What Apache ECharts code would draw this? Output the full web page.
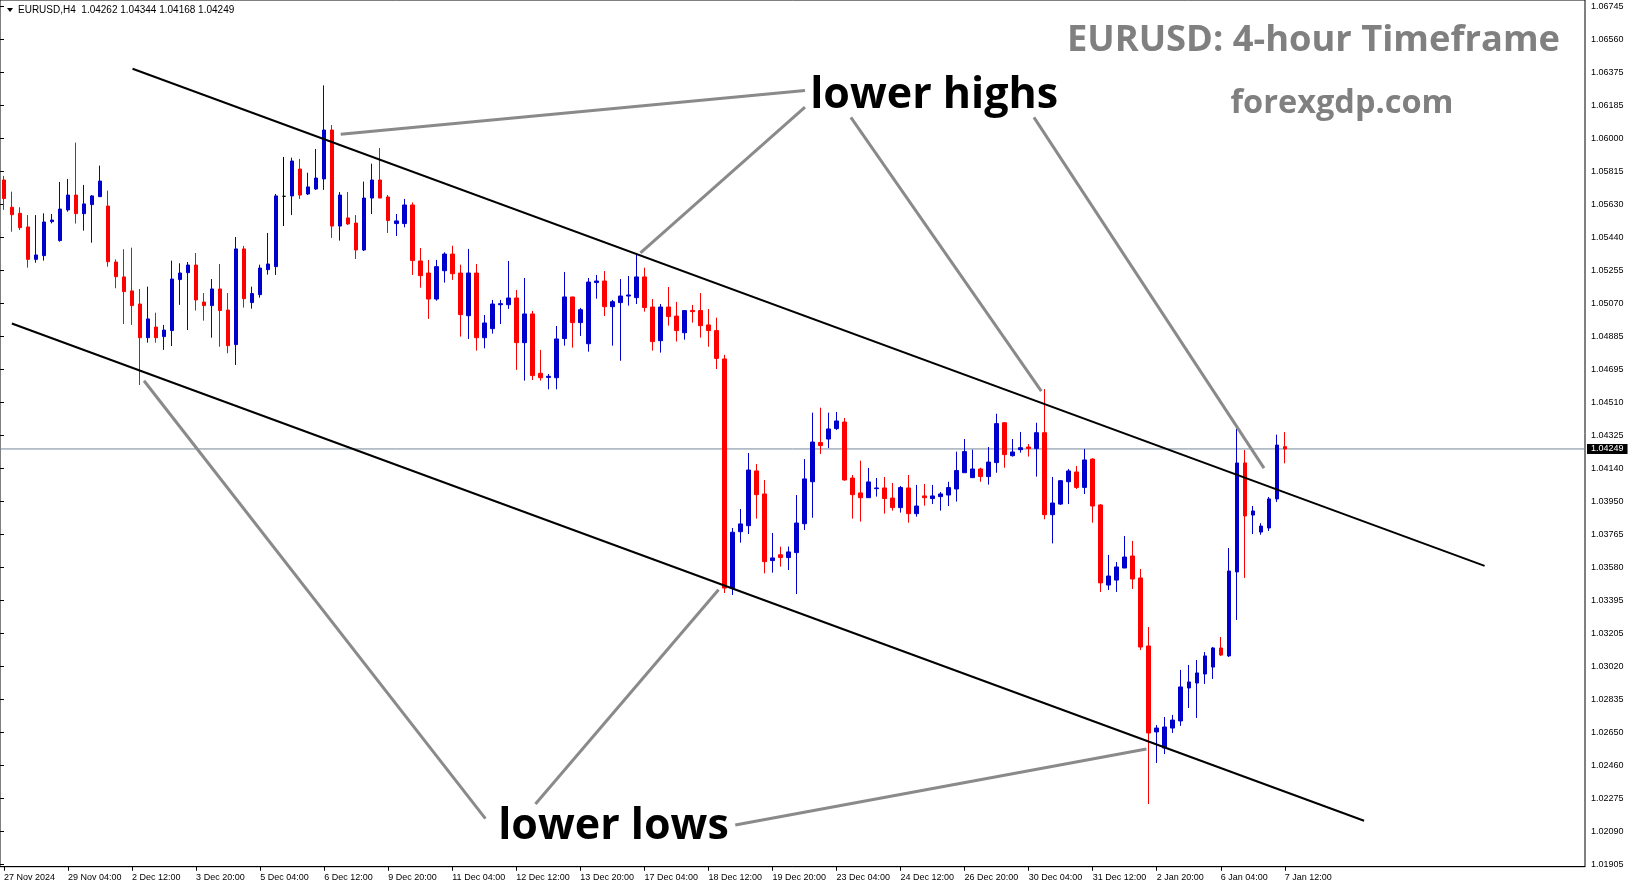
<!DOCTYPE html>
<html><head><meta charset="utf-8">
<script src="https://cdn.jsdelivr.net/npm/echarts@6/dist/echarts.min.js"></script>
<style>html,body{margin:0;padding:0;background:#fff;}#c{width:1631px;height:888px;}</style>
</head><body><div id="c"></div>
<script>
const symbolName = 'EURUSD,H4';
const titleText = 'EURUSD: 4-hour Timeframe';
const siteText = 'forexgdp.com';
const xTickLabels = ['27 Nov 2024','29 Nov 04:00','2 Dec 12:00','3 Dec 20:00','5 Dec 04:00','6 Dec 12:00','9 Dec 20:00','11 Dec 04:00','12 Dec 12:00','13 Dec 20:00','17 Dec 04:00','18 Dec 12:00','19 Dec 20:00','23 Dec 04:00','24 Dec 12:00','26 Dec 20:00','30 Dec 04:00','31 Dec 12:00','2 Jan 20:00','6 Jan 04:00','7 Jan 12:00'];
const yTickLabels = ['1.01905','1.02090','1.02275','1.02460','1.02650','1.02835','1.03020','1.03205','1.03395','1.03580','1.03765','1.03950','1.04140','1.04325','1.04510','1.04695','1.04885','1.05070','1.05255','1.05440','1.05630','1.05815','1.06000','1.06185','1.06375','1.06560','1.06745'];

const opens = [1.05767,1.05613,1.05579,1.05502,1.05319,1.05340,1.05532,1.05425,1.05598,1.05682,
1.05577,1.05628,1.05673,1.05620,1.05304,1.05220,1.05141,1.05067,1.04877,1.04937,
1.04883,1.04917,1.05205,1.05244,1.05287,1.05078,1.05058,1.05152,1.05033,1.04838,
1.05378,1.05075,1.05120,1.05261,1.05278,1.05675,1.05677,1.05829,1.05688,1.05716,
1.05773,1.06049,1.05507,1.05553,1.05524,1.05372,1.05665,1.05767,1.05671,1.05521,
1.05521,1.05626,1.05310,1.05242,1.05095,1.05255,1.05349,1.05242,1.05001,1.05242,
1.04877,1.04928,1.05063,1.05063,1.05101,1.04849,1.05011,1.04676,1.04653,1.04651,
1.04872,1.05107,1.04962,1.04843,1.05188,1.05197,1.05052,1.05075,1.05112,1.05103,
1.05220,1.05050,1.04860,1.05050,1.04999,1.04905,1.05031,1.05030,1.04949,1.04917,
1.04757,1.03464,1.03782,1.03816,1.04125,1.03995,1.03619,1.03652,1.03636,1.03664,
1.03827,1.04064,1.04285,1.04305,1.04364,1.04401,1.04085,1.04001,1.03974,1.04025,
1.04029,1.03972,1.03918,1.04029,1.03884,1.03984,1.03969,1.03980,1.03989,1.04023,
1.04115,1.04087,1.04136,1.04093,1.04172,1.04397,1.04211,1.04245,1.04260,1.04251,
1.04341,1.03878,1.03938,1.04064,1.04119,1.04032,1.04192,1.03933,1.03481,1.03509,
1.03577,1.03645,1.03521,1.03137,1.02652,1.02561,1.02674,1.02714,1.02900,1.02928,
1.02979,1.03018,1.03126,1.03081,1.03555,1.04170,1.03876,1.03780,1.03803,1.03967,
1.04262];
const closes = [1.05662,1.05571,1.05498,1.05319,1.05344,1.05530,1.05541,1.05603,1.05682,1.05577,
1.05632,1.05677,1.05761,1.05306,1.05221,1.05137,1.05058,1.04877,1.04983,1.04877,
1.04920,1.05208,1.05242,1.05287,1.05090,1.05058,1.05152,1.05030,1.04832,1.05378,
1.05097,1.05126,1.05270,1.05293,1.05677,1.05675,1.05874,1.05682,1.05728,1.05778,
1.06049,1.05507,1.05682,1.05519,1.05372,1.05665,1.05767,1.05665,1.05538,1.05536,
1.05626,1.05312,1.05227,1.05095,1.05278,1.05349,1.05238,1.05007,1.05242,1.04877,
1.04960,1.05067,1.05069,1.05101,1.04849,1.05011,1.04663,1.04651,1.04659,1.04870,
1.05107,1.04962,1.05035,1.05191,1.05197,1.05052,1.05080,1.05112,1.05118,1.05220,
1.05047,1.04855,1.05050,1.04996,1.04917,1.05030,1.05024,1.04945,1.04917,1.04760,
1.03464,1.03779,1.03826,1.04130,1.03991,1.03613,1.03634,1.03636,1.03668,1.03831,
1.04080,1.04288,1.04268,1.04362,1.04407,1.04074,1.03991,1.03974,1.04063,1.04029,
1.03969,1.03918,1.04031,1.03884,1.03927,1.03974,1.03984,1.03995,1.04031,1.04127,
1.04234,1.04136,1.04093,1.04175,1.04392,1.04217,1.04232,1.04256,1.04251,1.04341,
1.03878,1.03944,1.04070,1.04125,1.04032,1.04187,1.03927,1.03493,1.03532,1.03583,
1.03639,1.03515,1.03131,1.02646,1.02674,1.02680,1.02719,1.02906,1.02934,1.02985,
1.03081,1.03126,1.03086,1.03560,1.04170,1.03871,1.03899,1.03814,1.03967,1.04271,
1.04249];
const lows = [1.05598,1.05475,1.05485,1.05272,1.05300,1.05312,1.05522,1.05419,1.05588,1.05521,
1.05481,1.05413,1.05673,1.05278,1.05156,1.04954,1.04949,1.04610,1.04849,1.04849,
1.04808,1.04830,1.05062,1.04920,1.05030,1.04973,1.04877,1.04826,1.04789,1.04723,
1.05047,1.05041,1.05103,1.05233,1.05231,1.05507,1.05569,1.05660,1.05682,1.05711,
1.05711,1.05440,1.05425,1.05513,1.05321,1.05366,1.05575,1.05665,1.05468,1.05451,
1.05500,1.05231,1.05159,1.04983,1.05086,1.05188,1.05203,1.04883,1.04870,1.04804,
1.04817,1.04900,1.04954,1.05039,1.04695,1.04635,1.04638,1.04635,1.04586,1.04586,
1.04832,1.04821,1.04887,1.04798,1.05097,1.04999,1.04832,1.04747,1.05058,1.05067,
1.05024,1.04804,1.04793,1.04945,1.04855,1.04866,1.04962,1.04877,1.04826,1.04700,
1.03436,1.03425,1.03720,1.03769,1.03856,1.03547,1.03551,1.03585,1.03566,1.03430,
1.03792,1.03861,1.04221,1.04254,1.04356,1.04070,1.03856,1.03839,1.03974,1.03980,
1.03884,1.03901,1.03890,1.03833,1.03867,1.03929,1.03938,1.03901,1.03927,1.03952,
1.04115,1.04087,1.04064,1.04048,1.04115,1.04143,1.04206,1.04228,1.04206,1.04093,
1.03852,1.03716,1.03933,1.03938,1.04023,1.03995,1.03833,1.03442,1.03453,1.03442,
1.03577,1.03459,1.03114,1.02245,1.02477,1.02527,1.02646,1.02686,1.02787,1.02731,
1.02923,1.02951,1.03081,1.03075,1.03284,1.03521,1.03769,1.03765,1.03786,1.03950,
1.04168];
const highs = [1.05790,1.05701,1.05613,1.05569,1.05569,1.05579,1.05575,1.05756,1.05773,1.05978,
1.05739,1.05682,1.05848,1.05707,1.05319,1.05376,1.05385,1.05152,1.05165,1.05018,
1.04949,1.05312,1.05297,1.05304,1.05355,1.05129,1.05208,1.05293,1.05129,1.05445,
1.05395,1.05165,1.05289,1.05468,1.05688,1.05897,1.05893,1.05886,1.05808,1.05942,
1.06301,1.06077,1.05699,1.05699,1.05569,1.05758,1.05859,1.05948,1.05682,1.05575,
1.05660,1.05640,1.05383,1.05316,1.05316,1.05359,1.05396,1.05289,1.05378,1.05293,
1.05005,1.05090,1.05090,1.05310,1.05146,1.05214,1.05028,1.04808,1.04672,1.04943,
1.05248,1.05107,1.05045,1.05214,1.05231,1.05253,1.05090,1.05208,1.05225,1.05349,
1.05272,1.05095,1.05067,1.05163,1.05079,1.05033,1.05062,1.05129,1.05039,1.04990,
1.04780,1.03803,1.03910,1.04226,1.04164,1.04074,1.03775,1.03698,1.03698,1.03989,
1.04192,1.04454,1.04482,1.04454,1.04458,1.04424,1.04102,1.04183,1.04142,1.04085,
1.04091,1.04057,1.04040,1.04102,1.04046,1.04051,1.04046,1.04006,1.04064,1.04234,
1.04305,1.04245,1.04143,1.04260,1.04448,1.04401,1.04305,1.04345,1.04277,1.04397,
1.04587,1.04091,1.04074,1.04136,1.04153,1.04249,1.04196,1.03938,1.03651,1.03611,
1.03758,1.03730,1.03572,1.03244,1.02691,1.02736,1.02748,1.03002,1.03030,1.03058,
1.03103,1.03131,1.03188,1.03690,1.04362,1.04243,1.03927,1.03830,1.03978,1.04330,
1.04344];

// trend objects, in (bar index, price)
const upperChannel = [[16.06, 1.06395], [184.96, 1.03589]];
const lowerChannel = [[0.98, 1.04957], [169.9, 1.02151]];
const pointerLines = [
  [[42.06, 1.06025], [100.06, 1.06272]],
  [[79.51, 1.05356], [100.06, 1.06178]],
  [[105.79, 1.06120], [129.58, 1.04576]],
  [[128.66, 1.06120], [157.40, 1.04141]],
  [[17.49, 1.04634], [60.14, 1.02163]],
  [[66.39, 1.02245], [89.26, 1.03454]],
  [[91.35, 1.02127], [142.71, 1.02556]]
];
const annotations = [
  { name: 'lower highs', value: [116.2, 1.06241] },
  { name: 'lower lows', value: [76.14, 1.02118] }
];

const SLOTS = 198;
const last = opens.length - 1;
const currentPrice = closes[last];
const categories = Array.from({ length: SLOTS }, (_, i) => String(i));
const candleData = opens.map((o, i) => [o, closes[i], lows[i], highs[i]]);
const fmt = v => v.toFixed(5);

const AX_FONT = 'Liberation Sans';
const chart = echarts.init(document.getElementById('c'), null, { renderer: 'canvas' });

const series = [
  {
    type: 'line', xAxisIndex: 1, yAxisIndex: 0, z: 1, silent: true,
    data: [[-0.5, currentPrice], [SLOTS - 0.5, currentPrice]],
    symbol: 'none', lineStyle: { color: '#778899', width: 1 },
    endLabel: {
      show: true, formatter: () => fmt(currentPrice), backgroundColor: '#000', color: '#fff',
      fontFamily: AX_FONT, fontSize: 9, padding: [1, 4, 0, 4], distance: 2
    }
  },
  {
    type: 'candlestick', xAxisIndex: 0, yAxisIndex: 0, z: 2, barWidth: 4,
    data: candleData,
    itemStyle: {
      color: '#0000CD', color0: '#FF0000', borderColor: '#0000CD', borderColor0: '#FF0000',
      borderColorDoji: '#000000', borderWidth: 1
    }
  },
  ...[upperChannel, lowerChannel].map(d => ({
    type: 'line', xAxisIndex: 1, yAxisIndex: 0, z: 3, silent: true, data: d,
    symbol: 'none', lineStyle: { color: '#000', width: 2 }
  })),
  ...pointerLines.map(d => ({
    type: 'line', xAxisIndex: 1, yAxisIndex: 0, z: 4, silent: true, data: d,
    symbol: 'none', lineStyle: { color: '#8a8a8a', width: 3 }
  })),
  {
    type: 'scatter', xAxisIndex: 1, yAxisIndex: 0, z: 5, silent: true, symbolSize: 0,
    itemStyle: { opacity: 1 },
    data: annotations,
    label: {
      show: true, position: [0, 0], align: 'center', verticalAlign: 'middle', opacity: 1,
      formatter: p => p.name, color: '#000000', textBorderWidth: 0, textBorderColor: 'transparent',
      fontFamily: 'Open Sans', fontWeight: 'bold', fontSize: 43
    }
  }
];

const option = {
  animation: false,
  backgroundColor: '#fff',
  grid: [
    { left: 0, right: 46, top: 0, bottom: 21.3, show: true, borderColor: '#000', borderWidth: 1, containLabel: false },
    { left: 0, right: 46, top: 6.7, bottom: 23.7, show: false, containLabel: false }
  ],
  xAxis: [
    {
      type: 'category', gridIndex: 0, data: categories, boundaryGap: true,
      axisLine: { show: true, lineStyle: { color: '#000' } },
      axisTick: {
        show: true, alignWithLabel: true, length: 4, lineStyle: { color: '#000' },
        interval: (i) => i % 8 === 0 && i / 8 < xTickLabels.length
      },
      axisLabel: {
        interval: (i) => i % 8 === 0 && i / 8 < xTickLabels.length,
        formatter: (v, i) => xTickLabels[i / 8] || '',
        align: 'left', margin: 6, color: '#000', fontFamily: AX_FONT, fontSize: 9
      },
      splitLine: { show: false }
    },
    { type: 'value', gridIndex: 0, min: -0.5, max: SLOTS - 0.5, show: false },
    { type: 'value', gridIndex: 1, min: 0, max: 1, show: false }
  ],
  yAxis: [
    {
      type: 'value', gridIndex: 0, min: 1.018914, max: 1.067828, position: 'right',
      axisLine: { show: false }, axisTick: { show: false }, axisLabel: { show: false },
      splitLine: { show: false }
    },
    {
      type: 'category', gridIndex: 1, data: yTickLabels, boundaryGap: false, position: 'right',
      axisLine: { show: false },
      axisTick: { show: true, length: 4, lineStyle: { color: '#000' } },
      axisLabel: { margin: 6, color: '#000', fontFamily: AX_FONT, fontSize: 9 },
      splitLine: { show: false }
    }
  ],
  graphic: [
    { type: 'polygon', shape: { points: [[7, 8], [13, 8], [10, 12]] }, style: { fill: '#000' } },
    {
      type: 'text', x: 18, y: 10.7,
      style: {
        text: symbolName + '  ' + [opens[last], highs[last], lows[last], closes[last]].map(fmt).join(' '),
        fill: '#000', font: '10px "Liberation Sans"', verticalAlign: 'middle'
      }
    },
    {
      type: 'text', x: 1560, y: 41,
      style: { text: titleText, fill: '#808080', font: 'bold 36.3px "Open Sans"', align: 'right', verticalAlign: 'middle' }
    },
    {
      type: 'text', x: 1342, y: 104,
      style: { text: siteText, fill: '#808080', font: 'bold 32.5px "Open Sans"', align: 'center', verticalAlign: 'middle' }
    }
  ],
  series
};
chart.setOption(option);
</script>
</body></html>
